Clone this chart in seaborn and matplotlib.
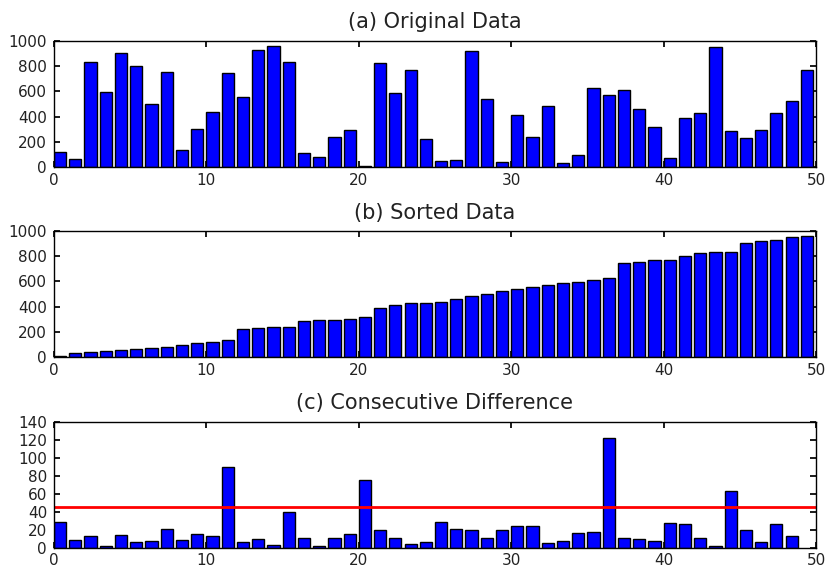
import numpy as np
import matplotlib
matplotlib.use("Agg")
import matplotlib.pyplot as plt
import seaborn as sns

# values
original = [121, 66, 834, 594, 902, 802, 501, 752, 132, 301, 435, 744, 559, 929, 960, 834,
            108, 82, 240, 290, 5, 826, 586, 768, 224, 50, 58, 921, 536, 40, 414, 240,
            485, 32, 98, 625, 575, 610, 459, 317, 74, 390, 425, 953, 282, 232, 290, 425,
            520, 768]
sorted_vals = [5, 32, 40, 50, 58, 66, 74, 82, 98, 108, 121, 132, 224, 232, 240, 240,
               282, 290, 290, 301, 317, 390, 414, 425, 425, 435, 459, 485, 501, 520, 536,
               559, 575, 586, 594, 610, 625, 744, 752, 768, 768, 802, 826, 834, 834, 902,
               921, 929, 953, 960]
diffs = [28, 8, 13, 1.5, 14, 6, 7, 21, 8, 15, 13, 89, 6, 9, 2.5, 40, 10.5, 1.5, 10.5, 15,
         75, 20, 10.5, 3.5, 6, 28, 21, 19, 10.5, 19, 23.5, 23.5, 4.5, 7, 16.5, 17.5, 122,
         11, 9.5, 7, 27, 26, 11, 1.5, 63, 20, 6, 26, 13]
threshold = 45
titles = ["(a) Original Data", "(b) Sorted Data", "(c) Consecutive Difference"]

sns.set_theme(style="ticks", rc={
    "xtick.direction": "in", "ytick.direction": "in",
    "xtick.top": True, "ytick.right": True,
    "xtick.major.size": 4, "ytick.major.size": 4,
    "xtick.major.pad": 4, "ytick.major.pad": 5,
    "axes.edgecolor": "black", "axes.linewidth": 1.0,
})
plt.rcParams["font.family"] = ["DejaVu Sans"]

fig = plt.figure(figsize=(8.26, 5.67), dpi=100)
left, width = 54 / 826, 762 / 826
tops = [41, 231, 421.5]
height = 126 / 567

series = [original, sorted_vals, diffs]
ylims = [(0, 1000), (0, 1000), (0, 140)]
yticks = [np.arange(0, 1001, 200), np.arange(0, 1001, 200), np.arange(0, 141, 20)]

for k in range(3):
    ax = fig.add_axes([left, 1 - tops[k] / 567 - height, width, height])
    vals = series[k]
    # classic edge-aligned bars: bar i covers [i, i+0.8]
    xpos = np.arange(len(vals)) + 0.4
    sns.barplot(x=xpos, y=vals, native_scale=True, orient="x", color="#0000ff",
                saturation=1, edgecolor="black", linewidth=1, width=0.8, ax=ax)
    if k == 2:
        ax.axhline(threshold, color="red", linewidth=2)
    ax.set_xlim(0, 50)
    ax.set_ylim(*ylims[k])
    ax.set_xticks([0, 10, 20, 30, 40, 50])
    ax.set_yticks(yticks[k])
    ax.tick_params(labelsize=11, colors="black", labelcolor="#222222")
    ax.set_xlabel("")
    ax.set_ylabel("")
    ax.set_title(titles[k], fontsize=15, color="#222222", pad=9)

fig.savefig("out.png", dpi=100, facecolor="white")
